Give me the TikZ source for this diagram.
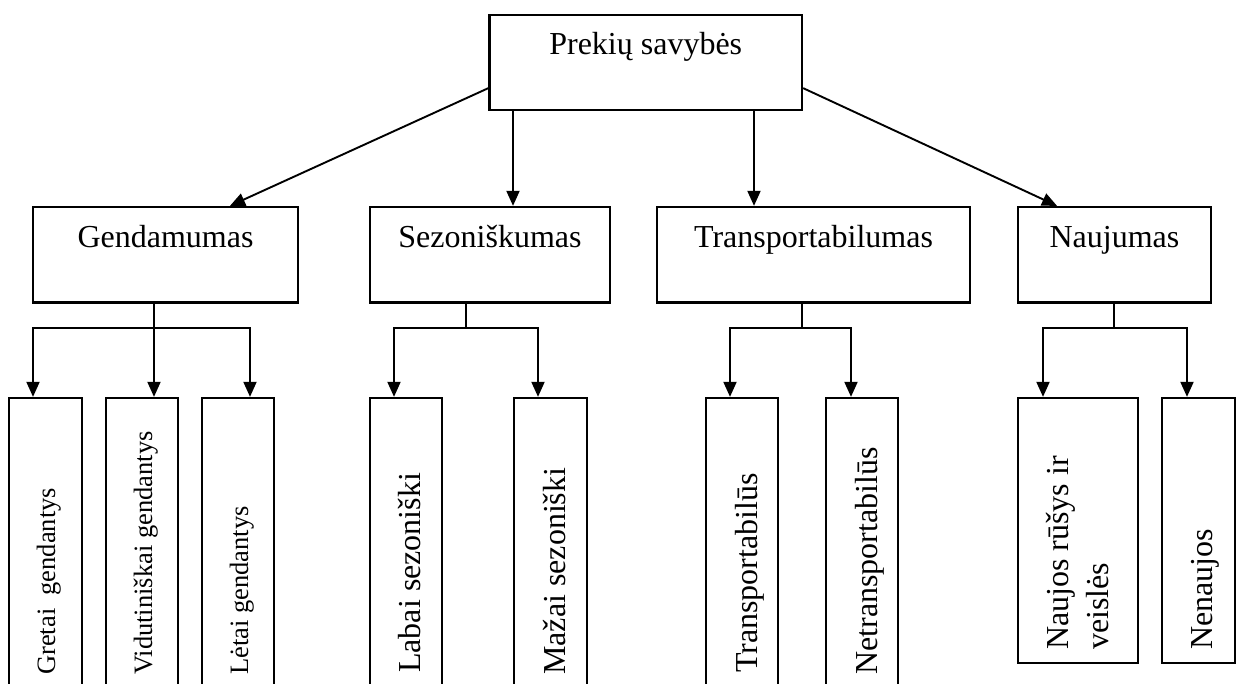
\documentclass[tikz,border=0pt]{standalone}
\usepackage{fontspec}
\setmainfont{Liberation Serif}
\usetikzlibrary{arrows.meta,calc}
\begin{document}
\begin{tikzpicture}[x=1pt,y=-1pt,
  box/.style={draw, line width=2.3pt, rectangle, inner sep=0pt},
  head/.style={box, font=\fontsize{32}{38}\selectfont, text height=41pt, text depth=54.5pt},
  leaf/.style={box},
  vlabel/.style={rotate=90, anchor=base west, inner sep=0pt, font=\fontsize{32}{40}\selectfont},
  vsmall/.style={vlabel, font=\fontsize{26.5}{32}\selectfont},
  conn/.style={line width=1.9pt},
  arr/.style={conn, -{Triangle[length=15pt,width=13pt]}}
]
\useasboundingbox (0,0) rectangle (1240,684);
\fill[white] (0,0) rectangle (1240,684);
\clip (0,0) rectangle (1240,684);

% root and the four property groups
\node[head, text height=40pt, text depth=55pt, minimum width=312.5pt] (top) at (645.75,62.5) {Prekių savybės};
\node[head, minimum width=265pt] (gend) at (165.5,254.75) {Gendamumas};
\node[head, minimum width=240pt] (sez) at (490,254.75) {Sezoniškumas};
\node[head, minimum width=313pt] (tra) at (813.5,254.75) {Transportabilumas};
\node[head, minimum width=193pt] (nau) at (1114.5,254.75) {Naujumas};

% tall leaf boxes
\node[leaf, minimum width=73pt, minimum height=322pt] (gr) at (45.5,559) {};
\node[leaf, minimum width=72pt, minimum height=322pt] (vi) at (142,559) {};
\node[leaf, minimum width=72pt, minimum height=322pt] (le) at (238,559) {};
\node[leaf, minimum width=72pt, minimum height=322pt] (la) at (406,559) {};
\node[leaf, minimum width=73pt, minimum height=322pt] (ma) at (550.5,559) {};
\node[leaf, minimum width=72pt, minimum height=322pt] (tr) at (742,559) {};
\node[leaf, minimum width=72pt, minimum height=322pt] (ne) at (862,559) {};
\node[leaf, minimum width=120pt, minimum height=265pt] (nj) at (1078,530.5) {};
\node[leaf, minimum width=73pt, minimum height=265pt] (nn) at (1198.5,530.5) {};

% vertical leaf labels
\node[vsmall] (grT) at (55,675) {Gretai~ gendantys};
\node[vsmall] (viT) at (152,675) {Vidutiniškai gendantys};
\node[vsmall] (leT) at (248,675) {Lėtai gendantys};
\node[vlabel] (laT) at (420,673) {Labai sezoniški};
\node[vlabel] (maT) at (565,675) {Mažai sezoniški};
\node[vlabel] (trT) at (757,673) {Transportabilūs};
\node[vlabel] (neT) at (877,675) {Netransportabilūs};
\node[vlabel] (njT) at (1068,650) {\begin{tabular}[t]{@{}l@{}}Naujos rūšys ir\\veislės\end{tabular}};
\node[vlabel] (nnT) at (1212,650) {Nenaujos};

% root to groups
\coordinate (s1) at ([xshift=-132.75pt]top.south);
\coordinate (s2) at ([xshift=108.25pt]top.south);
\draw[arr] ([yshift=23pt]top.south west) -- ([xshift=64.5pt]gend.north);
\draw[arr] (s1) -- (s1 |- sez.north);
\draw[arr] (s2) -- (s2 |- tra.north);
\draw[arr] ([yshift=23pt]top.south east) -- ([xshift=-57.5pt]nau.north);

% Gendamumas branches
\coordinate (gS) at ([xshift=-11.5pt]gend.south);
\coordinate (gJ) at ([yshift=-24.5pt]gS);
\draw[conn] (gS) -- (gJ);
\draw[arr] (gJ) -| ([xshift=-12.5pt]gr.north);
\draw[arr] (gJ) -- (gJ |- vi.north);
\draw[arr] (gJ) -| ([xshift=12pt]le.north);

% Sezoniškumas branches
\coordinate (sS) at ([xshift=-24pt]sez.south);
\coordinate (sJ) at ([yshift=-24.5pt]sS);
\draw[conn] (sS) -- (sJ);
\draw[arr] (sJ) -| ([xshift=-12pt]la.north);
\draw[arr] (sJ) -| ([xshift=-12.5pt]ma.north);

% Transportabilumas branches
\coordinate (tS) at ([xshift=-11.5pt]tra.south);
\coordinate (tJ) at ([yshift=-24.5pt]tS);
\draw[conn] (tS) -- (tJ);
\draw[arr] (tJ) -| ([xshift=-12pt]tr.north);
\draw[arr] (tJ) -| ([xshift=-11pt]ne.north);

% Naujumas branches
\coordinate (nS) at ([xshift=-0.5pt]nau.south);
\coordinate (nJ) at ([yshift=-24.5pt]nS);
\draw[conn] (nS) -- (nJ);
\draw[arr] (nJ) -| ([xshift=-35pt]nj.north);
\draw[arr] (nJ) -| ([xshift=-11.5pt]nn.north);
\end{tikzpicture}
\end{document}
